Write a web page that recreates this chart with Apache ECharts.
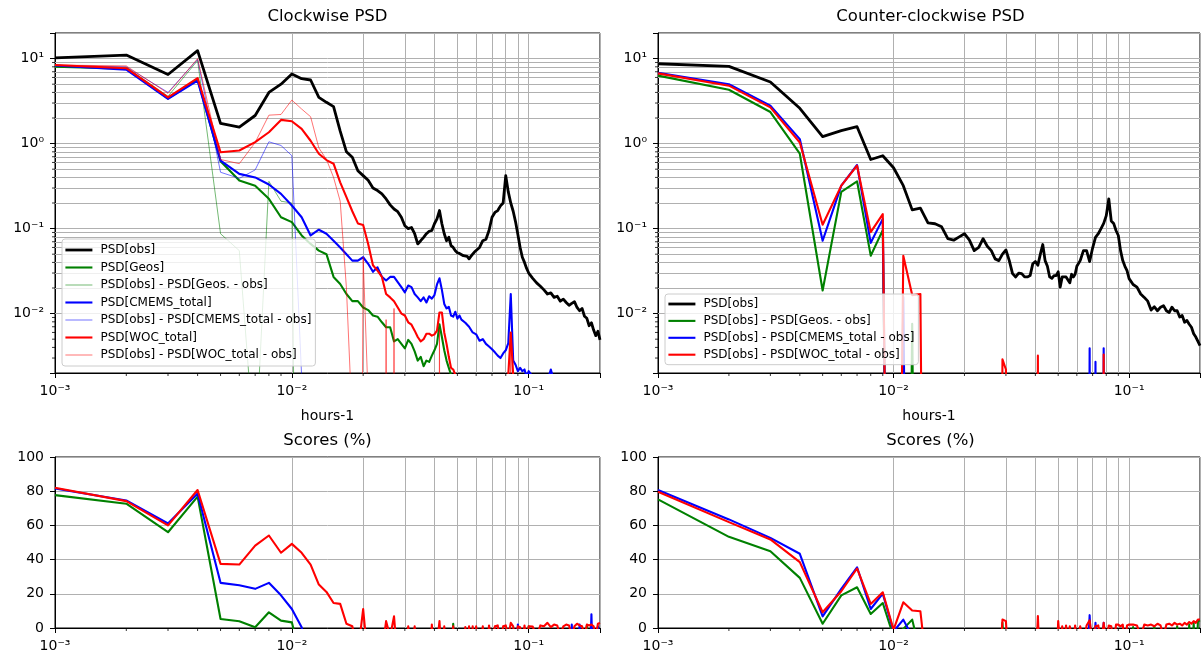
<!DOCTYPE html>
<html><head><meta charset="utf-8">
<script src="https://cdn.jsdelivr.net/npm/echarts@6.0.0/dist/echarts.min.js"></script>
<style>html,body{margin:0;padding:0;background:#fff}#c{width:1203px;height:659px}</style>
</head><body><div id="c"></div>
<script>
// frequencies (hours^-1)
const freq = [
0.001,0.002,0.003,0.004,0.005,0.006,0.007,0.008,0.009,0.010,
0.011,0.012,0.013,0.014,0.015,0.016,0.017,0.018,0.019,0.020,
0.021,0.022,0.023,0.024,0.025,0.026,0.027,0.028,0.029,0.030,
0.031,0.032,0.033,0.034,0.035,0.036,0.037,0.038,0.039,0.040,
0.041,0.042,0.043,0.044,0.045,0.046,0.047,0.048,0.049,0.050,
0.051,0.052,0.053,0.054,0.055,0.056,0.057,0.058,0.059,0.060,
0.062,0.064,0.066,0.068,0.070,0.072,0.074,0.076,0.078,0.080,
0.082,0.084,0.086,0.088,0.090,0.092,0.094,0.096,0.098,0.100,
0.104,0.108,0.112,0.116,0.120,0.124,0.128,0.132,0.136,0.140,
0.144,0.148,0.152,0.156,0.160,0.164,0.168,0.172,0.176,0.180,
0.184,0.188,0.192,0.196,0.200];

// Clockwise PSD (0 = non-positive value)
const cwObs = [
10.2,11.0,6.5,12.4,1.73,1.56,2.14,4.0,5.0,6.6,
5.8,5.6,3.5,3.06,2.72,1.4,0.8,0.69,0.48,0.42,
0.37,0.30,0.28,0.256,0.223,0.19,0.17,0.158,0.136,0.108,
0.10,0.103,0.087,0.066,0.072,0.079,0.087,0.093,0.095,0.114,
0.13,0.163,0.114,0.087,0.072,0.079,0.063,0.06,0.055,0.052,
0.051,0.05,0.048,0.05,0.047,0.044,0.047,0.05,0.053,0.055,
0.06,0.072,0.075,0.095,0.136,0.155,0.163,0.185,0.2,0.42,
0.27,0.2,0.16,0.12,0.085,0.06,0.046,0.04,0.034,0.03,
0.026,0.023,0.021,0.019,0.017,0.0175,0.0155,0.016,0.014,0.0148,
0.0135,0.0125,0.0132,0.0138,0.0118,0.0108,0.0115,0.0093,0.0088,0.0072,
0.0078,0.0064,0.0055,0.0062,0.0049];
const cwGeos = [
8.05,7.6,3.4,5.7,0.62,0.367,0.32,0.224,0.136,0.119,
0.083,0.066,0.055,0.05,0.027,0.0223,0.017,0.014,0.014,0.0118,
0.011,0.0095,0.0092,0.0079,0.0069,0.0069,0.0047,0.005,0.0044,0.0039,
0.0049,0.0044,0.0036,0.0028,0.0031,0.0024,0.0028,0.0027,0.0032,0.0037,
0.0044,0.0075,0.0053,0.0037,0.0028,0.0023,0.0019,0.0016,0.0015,0.0014,
0.0014,0.0013,0.0013,0.0013,0.0012,0.0012,0.0012,0.0012,0.0011,0.0011,
0.0011,0.0011,0.001,0.001,0.001,0.001,0.001,0.001,0.001,0.001,
0.0011,0.001,0.001,0.001,0.0009,0.0009,0.0009,0.0009,0.0009,0.0009,
0.0008,0.0008,0.0008,0.0008,0.0008,0.0008,0.0008,0.0008,0.0008,0.0008,
0.0008,0.0008,0.0008,0.0008,0.0008,0.0008,0.0008,0.0008,0.0008,0.0008,
0.0007,0.0007,0.0007,0.0007,0.0007];
const cwGeosDiff = [
8.0,7.9,3.6,9.5,0.087,0.055,0.0002,0.36,0.21,0.2,
0,0,0,0,0,0,0,0,0,0,
0,0,0,0,0,0,0,0,0,0,
0,0,0,0,0,0,0,0,0,0,
0,0,0,0,0,0,0,0,0,0,
0,0,0,0,0,0,0,0,0,0,
0,0,0,0,0,0,0,0,0,0,
0,0,0,0,0,0,0,0,0,0,
0,0,0,0,0,0,0,0,0,0,
0,0,0,0,0,0,0,0,0,0,
0,0,0,0,0];
const cwCmems = [
8.3,7.4,3.36,5.5,0.63,0.44,0.40,0.33,0.256,0.187,
0.136,0.083,0.097,0.087,0.072,0.06,0.05,0.042,0.042,0.046,
0.0385,0.031,0.035,0.027,0.0245,0.027,0.027,0.0234,0.0205,0.0178,
0.0214,0.0205,0.017,0.0155,0.014,0.0155,0.0135,0.016,0.015,0.0165,
0.022,0.026,0.019,0.013,0.0115,0.012,0.0095,0.0092,0.0105,0.0087,
0.0095,0.0085,0.0088,0.0078,0.0078,0.007,0.0068,0.006,0.0063,0.0057,
0.0048,0.005,0.0044,0.0041,0.0038,0.0035,0.0032,0.003,0.0034,0.0037,
0.0045,0.017,0.0028,0.0025,0.0021,0.0023,0.0021,0.0022,0.0018,0.0021,
0.0018,0.0017,0.0016,0.0017,0.0016,0.0022,0.0016,0.0015,0.0015,0.0014,
0.0014,0.0013,0.0014,0.0013,0.0013,0.0012,0.0013,0.0012,0.0012,0.0012,
0.0011,0.0011,0.0011,0.001,0.001];
const cwCmemsDiff = [
8.3,8.0,4.0,9.8,0.46,0.39,0.49,1.05,0.95,0.72,
0.0018,0,0,0,0,0,0,0,0,0,
0,0,0,0,0,0,0,0,0,0,
0,0,0,0,0,0,0,0,0,0,
0,0,0,0,0,0,0,0,0,0,
0,0,0,0,0,0,0,0,0,0,
0,0,0,0,0,0,0,0,0,0,
0,0,0,0,0,0,0,0,0,0,
0,0,0,0,0,0,0,0,0,0,
0,0,0,0,0,0,0,0,0,0,
0,0,0,0,0];
const cwWoc = [
8.4,7.7,3.5,5.9,0.79,0.83,1.04,1.36,1.9,1.83,
1.49,1.08,0.76,0.64,0.58,0.35,0.235,0.16,0.115,0.11,
0.066,0.037,0.032,0.027,0.017,0.0155,0.014,0.0118,0.01,0.0095,
0.0079,0.0074,0.0063,0.0053,0.0047,0.005,0.0058,0.0058,0.0055,0.0057,
0.0063,0.0103,0.0103,0.006,0.0044,0.0031,0.0023,0.0022,0.0019,0.0016,
0.0015,0.0015,0.0014,0.0014,0.0014,0.0013,0.0013,0.0013,0.0013,0.0012,
0.0012,0.0012,0.0012,0.0012,0.0012,0.0011,0.0011,0.0011,0.0011,0.0011,
0.0019,0.006,0.0019,0.0011,0.001,0.001,0.001,0.001,0.001,0.001,
0.001,0.001,0.001,0.001,0.001,0.001,0.001,0.001,0.001,0.001,
0.0009,0.0009,0.0009,0.0009,0.0009,0.0009,0.0009,0.0009,0.0009,0.0009,
0.0009,0.0009,0.0009,0.0009,0.0009];
const cwWocDiff = [
8.4,8.2,3.9,10.0,0.65,0.58,1.03,2.16,2.2,3.25,
2.55,2.07,0.89,0.65,0.40,0.21,0.02,0.0005,0,0.046,
0.001,0,0,0,0.0085,0,0.0115,0,0,0,
0,0,0,0,0,0,0,0,0,0,
0,0.0065,0,0,0,0,0,0,0,0,
0,0,0,0,0,0,0,0,0,0,
0,0,0,0,0,0,0,0,0,0,
0,0.006,0,0,0,0,0,0,0,0,
0,0,0,0,0,0,0,0,0,0,
0,0,0,0,0,0,0,0,0,0,
0,0,0,0,0];

// Counter-clockwise PSD
const ccwObs = [
8.7,8.1,5.3,2.6,1.21,1.42,1.58,0.65,0.72,0.52,
0.32,0.166,0.174,0.117,0.114,0.105,0.076,0.073,0.08,0.087,
0.073,0.055,0.06,0.076,0.062,0.055,0.044,0.042,0.05,0.056,
0.042,0.0295,0.027,0.03,0.0295,0.027,0.027,0.028,0.0385,0.041,
0.037,0.05,0.065,0.042,0.036,0.027,0.026,0.028,0.028,0.031,
0.0205,0.027,0.026,0.027,0.027,0.023,0.029,0.027,0.029,0.036,
0.042,0.055,0.055,0.041,0.059,0.079,0.087,0.1,0.115,0.142,
0.224,0.123,0.115,0.095,0.083,0.055,0.042,0.036,0.032,0.0258,
0.022,0.0205,0.017,0.0155,0.014,0.011,0.012,0.0108,0.0119,0.0124,
0.0108,0.0103,0.0119,0.0108,0.0108,0.0091,0.0095,0.0079,0.0083,0.0075,
0.0069,0.0058,0.0053,0.0047,0.0042];
const ccwGeosDiff = [
6.3,4.3,2.35,0.76,0.0187,0.27,0.36,0.048,0.096,0,
0,0.0076,0,0,0,0,0,0,0,0,
0,0,0,0,0,0,0,0,0,0,
0,0,0,0,0,0,0,0,0,0,
0,0,0,0,0,0,0,0,0,0,
0,0,0,0,0,0,0,0,0,0,
0,0,0,0,0,0,0,0,0,0,
0,0,0,0,0,0,0,0,0,0,
0,0,0,0,0,0,0,0,0,0,
0,0,0,0,0,0,0,0,0,0,
0,0,0,0,0];
const ccwCmemsDiff = [
6.8,5.0,2.8,1.13,0.072,0.32,0.56,0.068,0.13,0,
0.0157,0,0,0,0,0,0,0,0,0,
0,0,0,0,0,0,0,0,0,0,
0,0,0,0,0,0,0,0,0,0,
0,0,0,0,0,0,0,0,0,0,
0,0,0,0,0,0,0,0,0,0,
0,0,0,0.0039,0,0.0027,0,0,0.0039,0,
0,0,0,0,0,0,0,0,0,0,
0,0,0,0,0,0,0,0,0,0,
0,0,0,0,0,0,0,0,0,0,
0,0,0,0,0];
const ccwWocDiff = [
6.7,4.8,2.67,1.03,0.111,0.32,0.55,0.091,0.148,0,
0.048,0.0165,0.017,0,0,0,0,0,0,0,
0,0,0,0,0,0,0,0,0.0029,0.0022,
0,0,0,0,0,0,0,0,0,0,
0.0032,0,0,0,0,0,0,0,0,0,
0,0,0,0,0,0,0,0,0,0,
0,0,0,0,0,0,0,0,0.0033,0,
0,0,0,0,0,0,0,0,0,0,
0,0,0,0,0,0,0,0,0,0,
0,0,0,0,0,0,0,0,0,0,
0,0,0,0,0];

// Scores (%) clockwise
const cwScoreGeos = [
77.7,72.7,56,76.8,5.3,3.9,0.4,9.2,4.3,3.3,
-20,-40,-40,-40,-40,-40,-40,-40,-40,-40,
-40,-40,-40,-40,-40,-40,-40,-40,-40,-40,
-40,-40,-40,-40,-40,-40,-40,-40,-40,-40,
-40,-40,-40,-40,-40,-40,-30,2.5,-30,-40,
-40,-40,-40,-40,-40,-40,-40,-40,-40,-40,
-40,-40,-40,-40,-40,-40,-40,-40,-40,-40,
-40,-40,-40,-40,-40,-40,-40,-40,-40,1,
-40,-40,-40,-40,-40,-40,-40,-40,-40,-40,
-40,-40,-40,-40,-40,-40,-40,-40,1.5,-40,
-40,-40,-40,-40,-40];
const cwScoreCmems = [
81.6,74.6,61.1,78.7,26.4,25,22.9,26.4,19.1,11.1,
0.5,-30,-40,-40,-40,-40,-40,-40,-40,-40,
-40,-40,-40,-40,-40,-40,-40,-40,-40,-40,
-40,-40,-40,-40,-40,-40,-40,-40,-40,-40,
-40,-40,-40,-40,-40,-40,-40,-40,-40,-40,
-40,-40,-40,-40,-40,-40,-40,-40,-40,-40,
-40,-40,-40,-40,-40,-40,-40,-40,-40,-40,
-40,-40,-40,-40,2,-40,-40,-40,-40,-40,
-40,-40,-40,-40,-40,-40,-40,-40,-40,-40,
-40,-40,2,-40,-40,2,-40,-40,-40,-40,
8,-40,-40,1,-40];
const cwScoreWoc = [
82,74.2,60,80.7,37.5,37.1,48.2,54.1,44,49.2,
44,37.1,25.4,21.1,14.6,14.1,2.5,1,-15,11.1,
-20,-30,-30,-15,4,-5,6.8,-20,-30,-20,
1,-20,1,-30,-30,-20,-10,-30,2,-20,
-10,4,-20,1,-30,-30,-20,1,-30,-30,
-30,-20,-30,0.5,-20,1,-30,1,-20,1,
-20,1,-20,1.5,-10,1,1.5,-10,1,1.5,
-5,3,1,-10,1,0.5,-10,1.5,-10,1,
0.8,-5,1.5,1,3,0.5,2,1.5,-5,1,
2,1.5,-5,1,2.5,1.5,1,-5,2,1.5,
2,1,-5,2.5,3];

// Scores (%) counter-clockwise
const ccwScoreGeos = [
75.2,53.3,44.9,29.3,2.5,19.1,23.8,8.2,14.6,-5,
-0.5,4.9,-15,-30,-30,-30,-30,-30,-30,-30,
-30,-30,-30,-30,-30,-30,-30,-30,3,-30,
-30,-30,-30,-30,-30,-30,-30,-30,-30,-30,
-30,-30,-30,-30,-30,-30,-30,-30,-30,0.5,
-30,-30,-30,-30,-30,-30,-30,-30,-30,-30,
-30,-30,-30,1,-30,-30,-30,-30,0.5,-30,
-30,-30,-30,-30,-30,-30,-30,-30,-30,-30,
0.5,-30,-30,-30,-30,-30,1,-30,-30,-30,
-30,-30,-30,-30,1,-30,-30,-30,-30,2,
-30,3,-30,4,4.5];
const ccwScoreCmems = [
80.7,63.5,52.7,43.4,6.8,22.9,35.5,11.1,20.1,-2,
4.9,-5,-30,-30,-30,-30,-30,-30,-30,-30,
-30,-30,-30,-30,-30,-30,-30,-30,-30,-30,
-30,-30,-30,-30,-30,-30,-30,-30,-30,-30,
-30,-30,-30,-30,-30,-30,-30,-30,-30,-30,
-30,-30,-30,-30,-30,-30,-30,-30,-30,-30,
-30,-30,-30,7.5,-30,3,-30,-30,3,-30,
-30,-30,-30,-30,-30,-30,-30,-30,-30,-30,
-30,-30,-30,-30,-30,-30,-30,-30,-30,-30,
-30,-30,-30,-30,-30,-30,-30,-30,-30,-30,
-30,-30,-30,-30,-30];
const ccwScoreWoc = [
79.7,61.9,51.8,38.5,9.2,21.5,34.8,14.1,20.9,-1,
15,10.2,9.8,-30,-30,-30,-30,-30,-30,-30,
-30,-30,-30,-30,-30,-30,-30,-30,5,4,
-30,-30,-30,-30,-30,-30,-30,-30,-30,-30,
7,-30,-30,-30,-30,-30,-30,-30,-30,4,
-10,1,-10,1.5,-10,1,0.5,-10,1.5,-10,
1,-10,1.5,4.5,-10,1,1.5,-10,3,-10,
1.5,1,-10,2,2,1,2,-10,1.5,2,
2,1.5,-5,2,1.5,2,1,2.5,1.5,-5,
2,2.5,1.5,3,2,2.5,1.5,3,2,3.5,
2.5,4,3,5,5];

// ticks and gridlines
const xTickVals = [0.001, 0.01, 0.1];
const xTickText = ['10\u207B\u00B3', '10\u207B\u00B2', '10\u207B\u00B9'];
const yTickValsPSD = [0.01, 0.1, 1, 10];
const yTickTextPSD = ['10\u207B\u00B2', '10\u207B\u00B9', '10\u2070', '10\u00B9'];
const xMinorGrid = [0.002,0.003,0.004,0.005,0.006,0.007,0.008,0.009,0.02,0.03,0.04,0.05,0.06,0.07,0.08,0.09];
const yMinorGridPSD = [0.003,0.004,0.005,0.006,0.007,0.008,0.009,0.02,0.03,0.04,0.05,0.06,0.07,0.08,0.09,
  0.2,0.3,0.4,0.5,0.6,0.7,0.8,0.9,2,3,4,5,6,7,8,9];

const FONT = 'DejaVu Sans';
const GRIDC = '#b0b0b0';
const C = {k:'#000000', g:'#008000', b:'#0000ff', r:'#ff0000'};
const X_MIN = 0.001, X_MAX = 0.2, PSD_MIN = 0.002, PSD_MAX = 20;

function tickFmt(vals, texts) {
  return function (v) {
    for (let i = 0; i < vals.length; i++) {
      if (Math.abs(Math.log10(v) - Math.log10(vals[i])) < 1e-6) return texts[i];
    }
    return '';
  };
}
function logPts(vals) { return freq.map((f, i) => [f, vals[i] > 0 ? vals[i] : 1e-12]); }
function linPts(vals) { return freq.map((f, i) => [f, vals[i]]); }

const grids = [
  {left: 55, top: 33, width: 545, height: 340},
  {left: 658, top: 33, width: 545, height: 340},
  {left: 55, top: 457, width: 545, height: 171},
  {left: 658, top: 457, width: 545, height: 171}
].map(g => Object.assign(g, {show: true, borderColor: '#000', borderWidth: 1, backgroundColor: 'transparent', containLabel: false}));

function xAx(i, withName) {
  return {
    type: 'log', logBase: 10, gridIndex: i, min: X_MIN, max: X_MAX,
    name: withName ? 'hours-1' : '', nameLocation: 'middle', nameGap: 36,
    nameTextStyle: {fontSize: 14, color: '#000', fontFamily: FONT},
    axisLine: {show: true, lineStyle: {color: '#000', width: 1}},
    axisTick: {show: true, length: 5, lineStyle: {color: '#000', width: 1}},
    axisLabel: {fontSize: 14, color: '#000', fontFamily: FONT, margin: 11, formatter: tickFmt(xTickVals, xTickText)},
    splitLine: {show: true, lineStyle: {color: GRIDC, width: 1}},
    minorTick: {show: false}, minorSplitLine: {show: false}
  };
}
function yAxLog(i) {
  return {
    type: 'log', logBase: 10, gridIndex: i, min: PSD_MIN, max: PSD_MAX,
    axisLine: {show: true, lineStyle: {color: '#000', width: 1}},
    axisTick: {show: true, length: 5, lineStyle: {color: '#000', width: 1}},
    axisLabel: {fontSize: 14, color: '#000', fontFamily: FONT, margin: 11, formatter: tickFmt(yTickValsPSD, yTickTextPSD)},
    splitLine: {show: true, lineStyle: {color: GRIDC, width: 1}}
  };
}
function yAxLin(i) {
  return {
    type: 'value', gridIndex: i, min: 0, max: 100, interval: 20,
    axisLine: {show: true, lineStyle: {color: '#000', width: 1}},
    axisTick: {show: true, length: 5, lineStyle: {color: '#000', width: 1}},
    axisLabel: {fontSize: 14, color: '#000', fontFamily: FONT, margin: 11},
    splitLine: {show: true, lineStyle: {color: GRIDC, width: 1}}
  };
}
function gridLines(i, isLog) {
  const d = xMinorGrid.map(v => ({xAxis: v}));
  if (isLog) yMinorGridPSD.forEach(v => d.push({yAxis: v}));
  return {
    type: 'line', xAxisIndex: i, yAxisIndex: i, data: [], z: 1, silent: true, symbol: 'none',
    markLine: {z: 1, silent: true, animation: false, symbol: ['none', 'none'], label: {show: false},
      lineStyle: {color: GRIDC, width: 1, type: 'solid'}, emphasis: {disabled: true}, data: d}
  };
}
// minor tick marks (outside the plot), positioned through the axes' own scales
function minorTicksX(i, yBase) {
  return {
    type: 'custom', xAxisIndex: i, yAxisIndex: i, silent: true, clip: false, z: 2,
    data: xMinorGrid.map(v => [v, yBase]),
    renderItem: function (params, api) {
      const p = api.coord([api.value(0), api.value(1)]);
      return {type: 'line', shape: {x1: p[0], y1: p[1], x2: p[0], y2: p[1] + 3}, style: {stroke: '#000', lineWidth: 0.8}};
    }
  };
}
function minorTicksY(i, xBase) {
  return {
    type: 'custom', xAxisIndex: i, yAxisIndex: i, silent: true, clip: false, z: 2,
    data: yMinorGridPSD.map(v => [xBase, v]),
    renderItem: function (params, api) {
      const p = api.coord([api.value(0), api.value(1)]);
      return {type: 'line', shape: {x1: p[0] - 3, y1: p[1], x2: p[0], y2: p[1]}, style: {stroke: '#000', lineWidth: 0.8}};
    }
  };
}
function line(name, i, pts, color, width, opacity) {
  return {
    type: 'line', name: name, xAxisIndex: i, yAxisIndex: i, data: pts,
    symbol: 'none', showSymbol: false, clip: true, z: 3, silent: true,
    lineStyle: {color: color, width: width, opacity: opacity, join: 'round', cap: 'butt'},
    itemStyle: {color: color}, emphasis: {disabled: true}
  };
}

const N_OBS = 'PSD[obs]';
const N_GEOS = 'PSD[Geos]';
const N_GEOSD = 'PSD[obs] - PSD[Geos. - obs]';
const N_CM = 'PSD[CMEMS_total]';
const N_CMD = 'PSD[obs] - PSD[CMEMS_total - obs]';
const N_WOC = 'PSD[WOC_total]';
const N_WOCD = 'PSD[obs] - PSD[WOC_total - obs]';

const TW = 2.8, MW = 2.1, THIN = 1.0, TOP = 0.55;

const series = [
  gridLines(0, true), gridLines(1, true), gridLines(2, false), gridLines(3, false),
  minorTicksX(0, PSD_MIN), minorTicksX(1, PSD_MIN), minorTicksX(2, 0), minorTicksX(3, 0),
  minorTicksY(0, X_MIN), minorTicksY(1, X_MIN),
  line(N_OBS, 0, logPts(cwObs), C.k, TW, 1),
  line(N_GEOS, 0, logPts(cwGeos), C.g, MW, 1),
  line(N_GEOSD, 0, logPts(cwGeosDiff), C.g, THIN, TOP),
  line(N_CM, 0, logPts(cwCmems), C.b, MW, 1),
  line(N_CMD, 0, logPts(cwCmemsDiff), C.b, THIN, TOP),
  line(N_WOC, 0, logPts(cwWoc), C.r, MW, 1),
  line(N_WOCD, 0, logPts(cwWocDiff), C.r, THIN, TOP),
  line(N_OBS, 1, logPts(ccwObs), C.k, TW, 1),
  line(N_GEOSD, 1, logPts(ccwGeosDiff), C.g, MW, 1),
  line(N_CMD, 1, logPts(ccwCmemsDiff), C.b, MW, 1),
  line(N_WOCD, 1, logPts(ccwWocDiff), C.r, MW, 1),
  line('cw geos score', 2, linPts(cwScoreGeos), C.g, MW, 1),
  line('cw cmems score', 2, linPts(cwScoreCmems), C.b, MW, 1),
  line('cw woc score', 2, linPts(cwScoreWoc), C.r, MW, 1),
  line('ccw geos score', 3, linPts(ccwScoreGeos), C.g, MW, 1),
  line('ccw cmems score', 3, linPts(ccwScoreCmems), C.b, MW, 1),
  line('ccw woc score', 3, linPts(ccwScoreWoc), C.r, MW, 1)
];

const legendBase = {
  orient: 'vertical', itemWidth: 27, itemHeight: 14, itemGap: 5.5, selectedMode: false,
  backgroundColor: 'rgba(255,255,255,0.8)', borderColor: '#cccccc', borderWidth: 1, borderRadius: 3,
  textStyle: {fontSize: 12, color: '#000', fontFamily: FONT, padding: [0, 0, 0, 3]}
};
const HID = {opacity: 0, borderWidth: 0};

const option = {
  animation: false,
  textStyle: {fontFamily: FONT},
  title: [
    {text: 'Clockwise PSD', left: 327.5, top: 8, textAlign: 'center', padding: 0, textStyle: {fontSize: 16.5, fontWeight: 'normal', color: '#000', fontFamily: FONT}},
    {text: 'Counter-clockwise PSD', left: 930.5, top: 8, textAlign: 'center', padding: 0, textStyle: {fontSize: 16.5, fontWeight: 'normal', color: '#000', fontFamily: FONT}},
    {text: 'Scores (%)', left: 327.5, top: 432, textAlign: 'center', padding: 0, textStyle: {fontSize: 16.5, fontWeight: 'normal', color: '#000', fontFamily: FONT}},
    {text: 'Scores (%)', left: 930.5, top: 432, textAlign: 'center', padding: 0, textStyle: {fontSize: 16.5, fontWeight: 'normal', color: '#000', fontFamily: FONT}}
  ],
  grid: grids,
  xAxis: [xAx(0, true), xAx(1, true), xAx(2, false), xAx(3, false)],
  yAxis: [yAxLog(0), yAxLog(1), yAxLin(2), yAxLin(3)],
  legend: [
    Object.assign({}, legendBase, {left: 62, top: 239, padding: [5, 4, 5, 2], data: [
      {name: N_OBS, lineStyle: {width: TW, opacity: 1}, itemStyle: HID},
      {name: N_GEOS, lineStyle: {width: MW, opacity: 1}, itemStyle: HID},
      {name: N_GEOSD, lineStyle: {width: THIN, opacity: TOP}, itemStyle: HID},
      {name: N_CM, lineStyle: {width: MW, opacity: 1}, itemStyle: HID},
      {name: N_CMD, lineStyle: {width: THIN, opacity: TOP}, itemStyle: HID},
      {name: N_WOC, lineStyle: {width: MW, opacity: 1}, itemStyle: HID},
      {name: N_WOCD, lineStyle: {width: THIN, opacity: TOP}, itemStyle: HID}
    ]}),
    Object.assign({}, legendBase, {left: 665, top: 294, itemGap: 4.9, padding: [4, 4, 4, 2], data: [
      {name: N_OBS, lineStyle: {width: TW, opacity: 1}, itemStyle: HID},
      {name: N_GEOSD, lineStyle: {width: MW, opacity: 1}, itemStyle: HID},
      {name: N_CMD, lineStyle: {width: MW, opacity: 1}, itemStyle: HID},
      {name: N_WOCD, lineStyle: {width: MW, opacity: 1}, itemStyle: HID}
    ]})
  ],
  series: series
};

const chart = echarts.init(document.getElementById('c'), null, {renderer: 'canvas'});
chart.setOption(option);
</script></body></html>
